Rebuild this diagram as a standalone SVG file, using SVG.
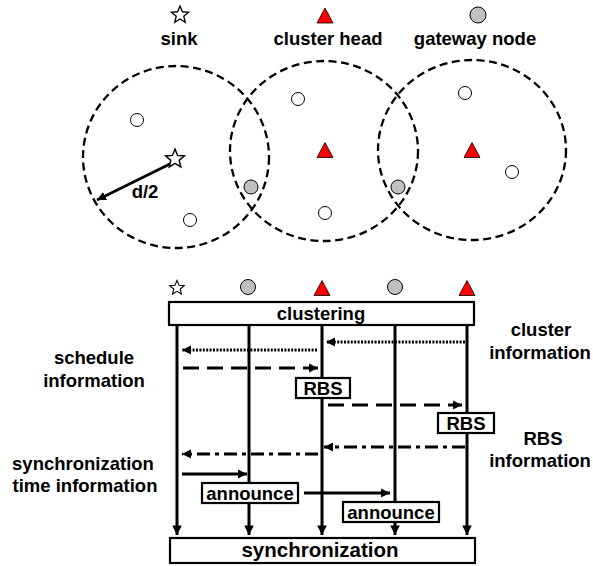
<svg xmlns="http://www.w3.org/2000/svg" width="593" height="566" viewBox="0 0 593 566">
<style>
text{font-family:"Liberation Sans",Arial,sans-serif;font-weight:bold;fill:#000;text-anchor:middle}
.t18{font-size:18.5px}
.t20{font-size:20.5px}
.range{fill:none;stroke:#000;stroke-width:2.3;stroke-dasharray:8,4.5}
.wn{fill:#fff;stroke:#000;stroke-width:1}
.gw{fill:#c0c0c0;stroke:#000;stroke-width:1}
.ch{fill:#ff0000;stroke:#000;stroke-width:0.8}
.star{fill:#fff;stroke:#000;stroke-width:1.3;stroke-linejoin:miter}
.box{fill:#fff;stroke:#000;stroke-width:2.2}
.life{stroke:#000;stroke-width:3;fill:none}
.msg{stroke:#000;stroke-width:2.8;fill:none}
.dot{stroke-dasharray:2,1.4}
.dash{stroke-dasharray:16,8}
.dd{stroke-dasharray:13,5,4,5}
</style>
<defs>
<path id="starP" d="M0,-9 L2.35,-3.24 L8.56,-2.78 L3.8,1.24 L5.29,7.28 L0,4 L-5.29,7.28 L-3.8,1.24 L-8.56,-2.78 L-2.35,-3.24 Z"/>
<path id="triP" d="M0,-7.5 L8,7.5 L-8,7.5 Z"/>
<marker id="ah" viewBox="0 0 10 10" refX="10" refY="5" markerWidth="3.2" markerHeight="3.8" markerUnits="strokeWidth" orient="auto">
<path d="M0,0 L10,5 L0,10 Z" fill="#000"/>
</marker>
<marker id="ahd" viewBox="0 0 10 10" refX="10" refY="5" markerWidth="3.2" markerHeight="4.2" markerUnits="strokeWidth" orient="auto">
<path d="M0,0 L10,5 L0,10 Z" fill="#000"/>
</marker>
</defs>

<!-- Legend -->
<g id="legend">
<use href="#starP" class="star" transform="translate(180,15)"/>
<text class="t18" x="179" y="45">sink</text>
<use href="#triP" class="ch" transform="translate(325,15.5)"/>
<text class="t18" x="328" y="45">cluster head</text>
<circle class="gw" cx="478" cy="15" r="8"/>
<text class="t18" x="475" y="45">gateway node</text>
</g>

<!-- Clusters -->
<g id="cluster1">
<ellipse class="range" cx="176" cy="157" rx="93" ry="91"/>
<circle class="wn" cx="137" cy="120" r="6.5"/>
<circle class="wn" cx="190" cy="220" r="6.5"/>
</g>
<g id="cluster2">
<ellipse class="range" cx="324" cy="151" rx="94" ry="90"/>
<circle class="wn" cx="298" cy="99" r="6.5"/>
<use href="#triP" class="ch" transform="translate(325,150)"/>
<circle class="wn" cx="325" cy="213" r="6.5"/>
</g>
<g id="cluster3">
<ellipse class="range" cx="472" cy="150" rx="94" ry="90"/>
<circle class="wn" cx="465" cy="93" r="6.5"/>
<use href="#triP" class="ch" transform="translate(472,150)"/>
<circle class="wn" cx="512" cy="172" r="6.5"/>
</g>
<g id="gateways">
<circle class="gw" cx="251" cy="187" r="7"/>
<circle class="gw" cx="398" cy="187" r="7"/>
</g>
<g id="radius">
<line class="msg" x1="176" y1="161" x2="97" y2="200" marker-end="url(#ah)"/>
<use href="#starP" class="star" transform="translate(175,159) scale(1.1)"/>
<text class="t18" x="145" y="198">d/2</text>
</g>

<!-- Sequence header icons -->
<g id="seq-icons">
<use href="#starP" class="star" transform="translate(177,288) scale(0.85)"/>
<circle class="gw" cx="248" cy="287" r="7.5"/>
<use href="#triP" class="ch" transform="translate(322,288)"/>
<circle class="gw" cx="395" cy="287" r="7.5"/>
<use href="#triP" class="ch" transform="translate(467,288)"/>
</g>

<!-- Lifelines -->
<g id="lifelines">
<line class="life" x1="177" y1="325" x2="177" y2="535" marker-end="url(#ahd)"/>
<line class="life" x1="249" y1="325" x2="249" y2="535" marker-end="url(#ahd)"/>
<line class="life" x1="322" y1="325" x2="322" y2="535" marker-end="url(#ahd)"/>
<line class="life" x1="395" y1="325" x2="395" y2="535" marker-end="url(#ahd)"/>
<line class="life" x1="467" y1="325" x2="467" y2="535" marker-end="url(#ahd)"/>
</g>

<!-- Messages -->
<g id="connectors">
<line class="msg dot" x1="465" y1="342" x2="326" y2="342" marker-end="url(#ah)"/>
<line class="msg dot" x1="317" y1="350" x2="182" y2="350" marker-end="url(#ah)"/>
<line class="msg dash" x1="183" y1="368" x2="318" y2="368" marker-end="url(#ah)"/>
<line class="msg dash" x1="328" y1="405" x2="462" y2="405" marker-end="url(#ah)"/>
<line class="msg dd" x1="465" y1="447" x2="324" y2="447" marker-end="url(#ah)"/>
<line class="msg dd" x1="318" y1="454" x2="182" y2="454" marker-end="url(#ah)"/>
<line class="msg" x1="182" y1="474" x2="247" y2="474" marker-end="url(#ah)"/>
<line class="msg" x1="304" y1="493" x2="390" y2="493" marker-end="url(#ah)"/>
</g>

<!-- Boxes -->
<g id="clustering">
<rect class="box" x="169" y="302" width="305" height="23"/>
<text class="t18" x="321" y="320">clustering</text>
</g>
<g id="rbs1">
<rect class="box" x="296" y="378" width="54" height="20"/>
<text class="t18" x="323" y="395">RBS</text>
</g>
<g id="rbs2">
<rect class="box" x="438" y="413" width="56" height="20"/>
<text class="t18" x="466" y="430">RBS</text>
</g>
<g id="announce1">
<rect class="box" x="202" y="483" width="96" height="20"/>
<text class="t18" x="250" y="500">announce</text>
</g>
<g id="announce2">
<rect class="box" x="343" y="502" width="96" height="20"/>
<text class="t18" x="391" y="519">announce</text>
</g>
<g id="synchronization">
<rect class="box" x="170" y="538" width="305" height="25"/>
<text class="t20" x="320" y="557">synchronization</text>
</g>

<!-- Side labels -->
<g id="labels">
<text class="t18" x="94" y="364">schedule</text>
<text class="t18" x="94" y="387">information</text>
<text class="t18" x="83" y="470">synchronization</text>
<text class="t18" x="85" y="492">time information</text>
<text class="t18" x="541" y="336">cluster</text>
<text class="t18" x="540" y="359">information</text>
<text class="t18" x="543" y="445">RBS</text>
<text class="t18" x="540" y="467">information</text>
</g>
</svg>
